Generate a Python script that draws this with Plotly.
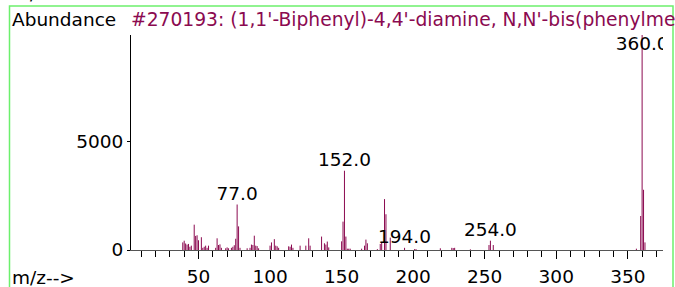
import plotly.graph_objects as go

# ---- data ----
mz = [39, 40, 41, 42, 43, 44, 45, 47, 48, 49, 50, 52, 53, 54, 55, 56, 57,
      62, 63, 64, 65, 66, 69, 70, 71, 73, 74, 75, 76, 77, 78, 79, 84,
      86, 87, 88, 89, 90, 91, 92, 100, 101, 103, 104, 105, 106,
      113, 114, 115, 116, 121, 125, 127, 128, 136, 138, 139, 140, 141,
      150, 151, 152, 153, 154, 155, 156, 164, 166, 167, 168, 175,
      177, 178, 180, 181, 184, 194, 201, 202, 219, 227, 228, 229, 240,
      253, 254, 256, 356, 359, 360, 361, 362]
abundance = [350, 430, 300, 250, 280, 150, 200, 1170, 650, 680, 450, 590, 100, 150, 200, 100, 200,
             100, 540, 230, 260, 100, 80, 120, 80, 100, 150, 220, 520, 2100, 1090, 100, 80,
             100, 250, 230, 660, 200, 180, 80, 200, 350, 500, 200, 170, 100,
             170, 150, 250, 100, 200, 200, 540, 200, 620, 310, 250, 390, 120,
             400, 1310, 3660, 620, 60, 60, 60, 60, 200, 480, 310, 40,
             280, 360, 2350, 1650, 570, 100, 40, 40, 80, 100, 90, 100, 30,
             230, 430, 230, 60, 1570, 10000, 2780, 350]
label_mz = [77, 152, 194, 254, 360]
x_tick_vals = [50, 100, 150, 200, 250, 300, 350]
y_tick_vals = [0, 5000]
title_text = "#270193: (1,1'-Biphenyl)-4,4'-diamine, N,N'-bis(phenylmethylene)-"

# ---- layout geometry (pixels) ----
W, H = 675, 287
ML, MR, MT, MB = 131, 12, 35, 37
PW, PH = W - ML - MR, H - MT - MB
X_RANGE = [2.83, 374.6]
Y_RANGE = [0, 9926]
LABEL_CAP = 9000

MAROON = "#8B0A50"
GREEN = "#6CF06C"
FONT = "DejaVu Sans, sans-serif"
FS = 18.5

def px_x(p):
    return (p - ML) / PW

def px_y(p):
    return (H - MB - p) / PH

# stick spectrum
xs, ys = [], []
for m, a in zip(mz, abundance):
    xs += [m, m, None]
    ys += [0, a, None]

lookup = dict(zip(mz, abundance))
lab_y = [min(lookup[m], LABEL_CAP) for m in label_mz]
lab_t = [f"{m:.1f}" for m in label_mz]

fig = go.Figure()
fig.add_trace(go.Scatter(x=xs, y=ys, mode="lines",
                         line=dict(color=MAROON, width=1),
                         hoverinfo="skip", showlegend=False))
fig.add_trace(go.Scatter(x=label_mz, y=lab_y, mode="text", text=lab_t,
                         textposition="top center",
                         textfont=dict(family=FONT, size=FS, color="black"),
                         cliponaxis=True, showlegend=False, hoverinfo="skip"))

fig.update_layout(
    width=W, height=H,
    margin=dict(l=ML, r=MR, t=MT, b=MB, pad=0, autoexpand=False),
    paper_bgcolor="white", plot_bgcolor="white",
    font=dict(family=FONT, size=FS, color="black"),
    showlegend=False,
    xaxis=dict(range=X_RANGE, showgrid=False, zeroline=False, automargin=False,
               showline=True, linecolor="#555555", linewidth=1,
               tickmode="array", tickvals=x_tick_vals,
               ticks="outside", ticklen=8, tickcolor="black", tickwidth=1,
               ticklabelstandoff=2,
               minor=dict(dtick=10, tick0=0, ticks="outside", ticklen=6,
                          tickcolor="black", showgrid=False)),
    yaxis=dict(range=Y_RANGE, showgrid=False, zeroline=False, automargin=False,
               showline=True, linecolor="black", linewidth=1,
               tickmode="array", tickvals=y_tick_vals,
               ticks="outside", ticklen=3, tickcolor="black"),
    shapes=[dict(type="rect", xref="paper", yref="paper",
                 x0=px_x(9.5), x1=px_x(673), y0=px_y(300), y1=px_y(6),
                 line=dict(color=GREEN, width=1.5), layer="below")],
    annotations=[
        dict(text="Abundance", xref="paper", yref="paper", x=px_x(10), y=px_y(19),
             xanchor="left", yanchor="middle", showarrow=False,
             font=dict(size=FS, color="black")),
        dict(text=title_text, xref="paper", yref="paper", x=0, y=px_y(19),
             xanchor="left", yanchor="middle", showarrow=False, xshift=-2,
             font=dict(size=18.7, color=MAROON)),
        dict(text="m/z-->", xref="paper", yref="paper", x=px_x(10), y=px_y(277),
             xanchor="left", yanchor="middle", showarrow=False,
             font=dict(size=FS, color="black")),
        dict(text="m/z-->", xref="paper", yref="paper", x=px_x(10), y=px_y(5.5),
             xanchor="left", yanchor="bottom", showarrow=False,
             font=dict(size=FS, color="black")),
    ],
)

fig.write_html("out.html", config={"displayModeBar": False},
               post_script="document.body.style.margin='0';document.body.style.overflow='hidden';")
